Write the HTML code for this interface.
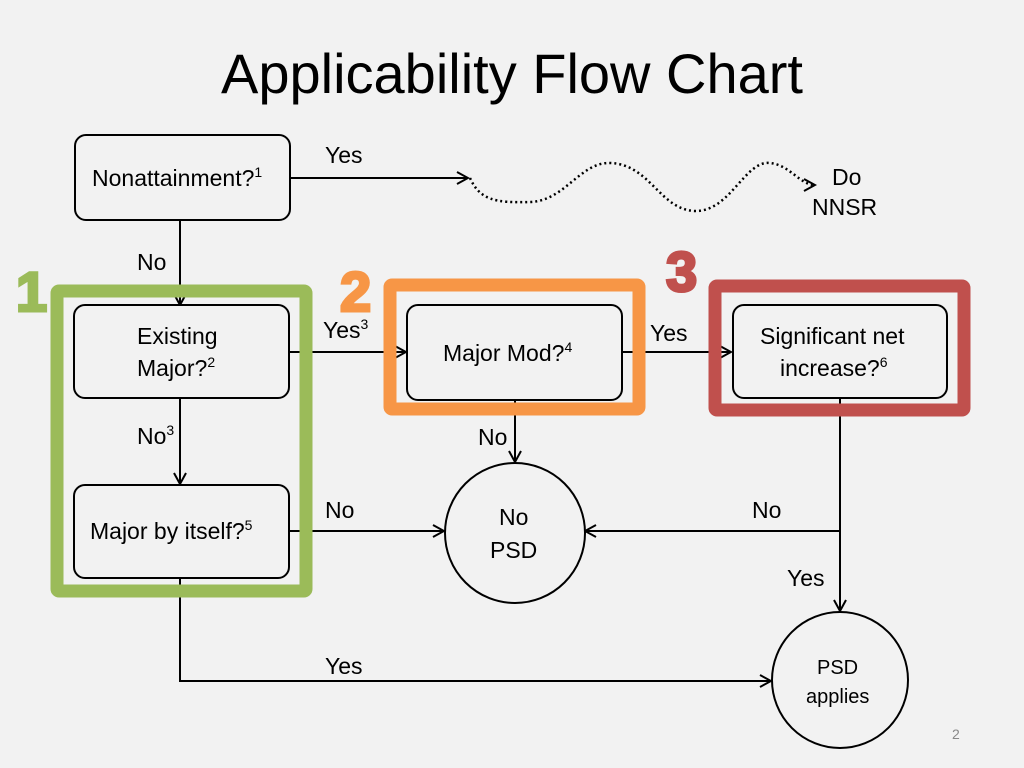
<!DOCTYPE html>
<html><head><meta charset="utf-8"><style>
html,body{margin:0;padding:0;background:#f2f2f2;}
svg{display:block;font-family:"Liberation Sans",Arial,sans-serif;}
</style></head><body>
<svg width="1024" height="768" viewBox="0 0 1024 768" xmlns="http://www.w3.org/2000/svg">
<defs>
<marker id="a" markerWidth="14" markerHeight="14" refX="12" refY="7" orient="auto" markerUnits="userSpaceOnUse">
<path d="M1,1 L12,7 L1,13" fill="none" stroke="#000" stroke-width="2"/>
</marker>
</defs>
<rect width="1024" height="768" fill="#f2f2f2"/>
<text x="512" y="93" font-size="56" text-anchor="middle" fill="#000">Applicability Flow Chart</text>

<g stroke="#000" stroke-width="2" fill="none">
<line x1="290" y1="178" x2="468" y2="178" marker-end="url(#a)"/>
<path d="M470,178 C480,200 495,203 530,202 C565,201 580,162 610,163 C650,164 660,210 695,211 C730,212 745,160 770,163 C790,165 800,185 815,185" stroke-dasharray="2,3" stroke-width="2.5" marker-end="url(#a)"/>
<line x1="180" y1="220" x2="180" y2="305" marker-end="url(#a)"/>
<line x1="289" y1="352" x2="406" y2="352" marker-end="url(#a)"/>
<line x1="622" y1="352" x2="731" y2="352" marker-end="url(#a)"/>
<line x1="515" y1="400" x2="515" y2="462" marker-end="url(#a)"/>
<line x1="180" y1="398" x2="180" y2="484" marker-end="url(#a)"/>
<line x1="289" y1="531" x2="444" y2="531" marker-end="url(#a)"/>
<line x1="840" y1="398" x2="840" y2="611" marker-end="url(#a)"/>
<line x1="840" y1="531" x2="585" y2="531" marker-end="url(#a)"/>
<polyline points="180,578 180,681 771,681" marker-end="url(#a)"/>
</g>

<rect x="57" y="291" width="249" height="300" fill="none" stroke="#9bbb59" stroke-width="13" rx="2"/>
<rect x="390" y="285" width="249" height="124" fill="none" stroke="#f79646" stroke-width="13" rx="2"/>
<rect x="715" y="286" width="249" height="124" fill="none" stroke="#c0504d" stroke-width="13" rx="2"/>

<g font-weight="bold" font-size="56" stroke-width="3">
<text x="16" y="311" fill="#9bbb59" stroke="#9bbb59">1</text>
<text x="340" y="311" fill="#f79646" stroke="#f79646">2</text>
<text x="666" y="291" fill="#c0504d" stroke="#c0504d">3</text>
</g>

<g stroke="#000" stroke-width="2" fill="#f2f2f2">
<rect x="75" y="135" width="215" height="85" rx="11"/>
<rect x="74" y="305" width="215" height="93" rx="11"/>
<rect x="407" y="305" width="215" height="95" rx="11"/>
<rect x="733" y="305" width="214" height="93" rx="11"/>
<rect x="74" y="485" width="215" height="93" rx="11"/>
<circle cx="515" cy="533" r="70"/>
<circle cx="840" cy="680" r="68"/>
</g>

<g font-size="23" fill="#000">
<text x="92" y="186">Nonattainment?<tspan font-size="14" dy="-9">1</tspan></text>
<text x="325" y="163">Yes</text>
<text x="832" y="185">Do</text>
<text x="812" y="215">NNSR</text>
<text x="137" y="270">No</text>
<text x="137" y="344">Existing</text>
<text x="137" y="376">Major?<tspan font-size="14" dy="-9">2</tspan></text>
<text x="323" y="338">Yes<tspan font-size="14" dy="-9">3</tspan></text>
<text x="443" y="361">Major Mod?<tspan font-size="14" dy="-9">4</tspan></text>
<text x="650" y="341">Yes</text>
<text x="760" y="344">Significant net</text>
<text x="780" y="376">increase?<tspan font-size="14" dy="-9">6</tspan></text>
<text x="478" y="445">No</text>
<text x="137" y="444">No<tspan font-size="14" dy="-9">3</tspan></text>
<text x="90" y="539">Major by itself?<tspan font-size="14" dy="-9">5</tspan></text>
<text x="325" y="518">No</text>
<text x="499" y="525">No</text>
<text x="490" y="558">PSD</text>
<text x="752" y="518">No</text>
<text x="787" y="586">Yes</text>
<text x="325" y="674">Yes</text>
</g>
<text x="817" y="674" font-size="20">PSD</text>
<text x="806" y="703" font-size="20">applies</text>
<text x="952" y="739" font-size="14" fill="#888">2</text>
</svg>
</body></html>
